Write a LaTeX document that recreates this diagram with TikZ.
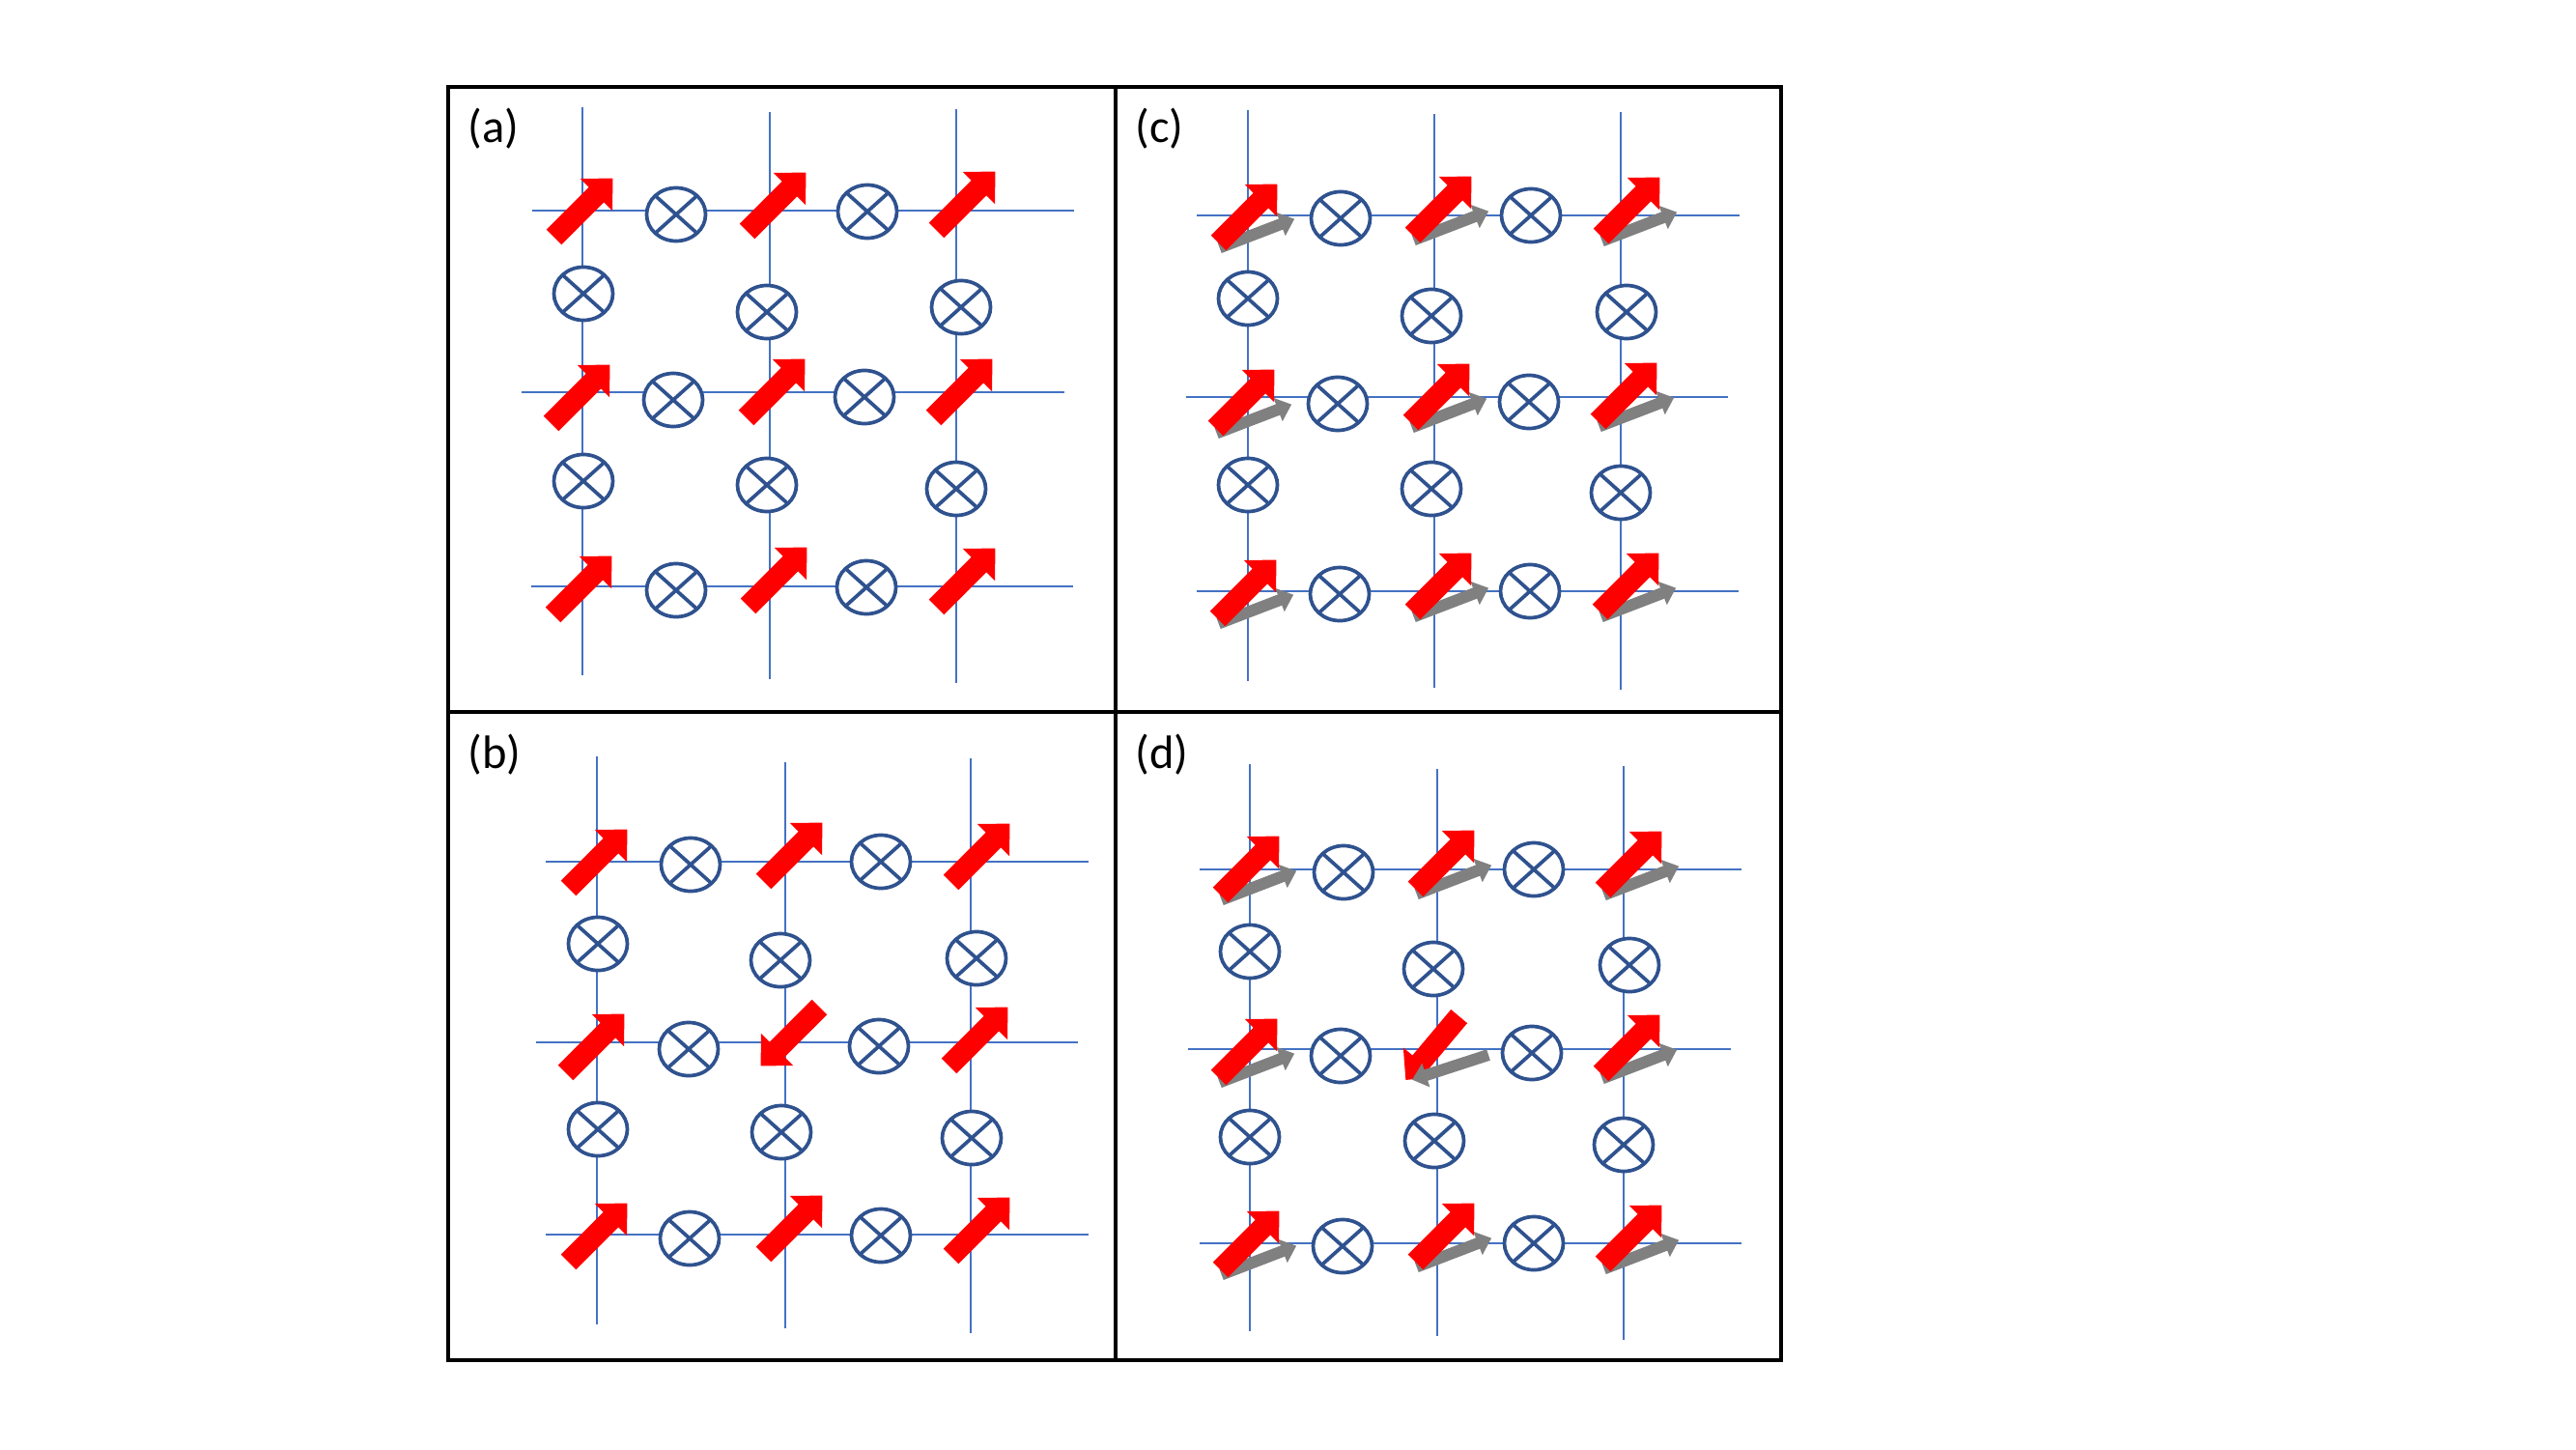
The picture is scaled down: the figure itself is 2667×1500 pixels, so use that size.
\documentclass[tikz,border=0pt]{standalone}
\usepackage{fontspec}
\setmainfont{Carlito}
\definecolor{latblue}{HTML}{4472C4}
\definecolor{circblue}{HTML}{2F528F}
\definecolor{arrred}{HTML}{FF0000}
\definecolor{arrgray}{HTML}{808080}
\begin{document}
\begin{tikzpicture}[x=0.01cm,y=-0.01cm,
  latline/.style={draw=latblue,line width=0.012cm},
  circ/.style={draw=circblue,fill=white,line width=0.037cm},
  crossline/.style={draw=circblue,line width=0.037cm},
  framebox/.style={draw=black,line width=0.035cm},
  lbl/.style={anchor=base west,inner sep=0pt,font=\fontsize{13.8}{16}\selectfont},
  redarr/.pic={\fill[arrred] (-43,-11) -- (19,-11) -- (19,-23.5) -- (43,0) -- (19,23.5) -- (19,11) -- (-43,11) -- cycle;},
  grayarr/.pic={\fill[arrgray] (0,-6) -- (68,-6) -- (68,-13) -- (83,0) -- (68,13) -- (68,6) -- (0,6) -- cycle;}
]
\fill[white] (0,0) rectangle (2667,1500);
\useasboundingbox (0,0) rectangle (2667,1500);

% lattice lines
\foreach \x/\a/\b in {603/111/699, 797/116/703, 990/113/707,
                      618/783/1371, 813/789/1375, 1005/785/1380,
                      1292/114/705, 1485/118/712, 1678/116/714,
                      1294/791/1378, 1488/796/1383, 1681/793/1387}
  \draw[latline] (\x,\a) -- (\x,\b);
\foreach \y/\a/\b in {218/551/1112, 406/540/1102, 607/550/1111,
                      892/565/1127, 1079/555/1116, 1278/565/1127,
                      223/1239/1801, 411/1228/1789, 612/1239/1800,
                      900/1242/1803, 1086/1230/1792, 1287/1242/1803}
  \draw[latline] (\a,\y) -- (\b,\y);

% circles with crosses
\foreach \cx/\cy in {700/222, 898/219, 604/304, 794/323, 995/318, 697/414, 895/411, 604/498, 794/502, 990/506, 700/611, 897/608,
                     715/895, 912/892, 619/977, 808/994, 1011/992, 713/1086, 910/1083, 619/1169, 809/1172, 1006/1178, 714/1282, 912/1279,
                     1388/226, 1585/223, 1292/309, 1482/327, 1684/323, 1385/418, 1583/416, 1292/502, 1482/506, 1678/510, 1387/615, 1584/612,
                     1391/903, 1588/900, 1294/985, 1484/1003, 1687/999, 1388/1093, 1586/1090, 1294/1177, 1485/1181, 1681/1185, 1390/1290, 1588/1287}
{
  \draw[circ] (\cx,\cy) ellipse [x radius=0.305cm, y radius=0.275cm];
  \draw[crossline] (\cx-21.6,\cy-19.4) -- (\cx+21.6,\cy+19.4);
  \draw[crossline] (\cx-21.6,\cy+19.4) -- (\cx+21.6,\cy-19.4);
}

% gray arrows (c) and (d), under the red ones
\foreach \cx/\cy in {1292/221, 1493/213, 1688/214, 1289/413, 1491/407, 1685/406, 1291/610, 1493/603, 1687/603,
                     1294/896, 1496/890, 1690/891, 1292/1085, 1688/1081, 1294/1284, 1496/1276, 1690/1278}
  \pic[rotate=21] at (\cx-29.4,\cy+35.4) {grayarr};

% red arrows pointing up-right
\foreach \cx/\cy in {604/215, 804/209, 1000/208, 601/408, 803/402, 997/402, 603/606, 805/597, 1000/598,
                     619/889, 821/882, 1015/883, 616/1080, 1013/1073, 619/1276, 821/1268, 1015/1270,
                     1292/221, 1493/213, 1688/214, 1289/413, 1491/407, 1685/406, 1291/610, 1493/603, 1687/603,
                     1294/896, 1496/890, 1690/891, 1292/1085, 1688/1081, 1294/1284, 1496/1276, 1690/1278}
  \pic[rotate=45] at (\cx,\cy) {redarr};

% reversed sites
\pic[rotate=225] at (818,1073) {redarr};
\pic[rotate=230] at (1483,1085) {redarr};
\pic[rotate=198] at (1541,1092) {grayarr};

% frame
\draw[framebox] (464,90) rectangle (1844,1408);
\draw[framebox] (1155,90) -- (1155,1408);
\draw[framebox] (464,737) -- (1844,737);

% labels
\node[lbl] (la) at (484,148) {(a)};
\node[lbl] (lb) at (484,795) {(b)};
\node[lbl] (lc) at (1175,148) {(c)};
\node[lbl] (ld) at (1175,795) {(d)};
\end{tikzpicture}
\end{document}
